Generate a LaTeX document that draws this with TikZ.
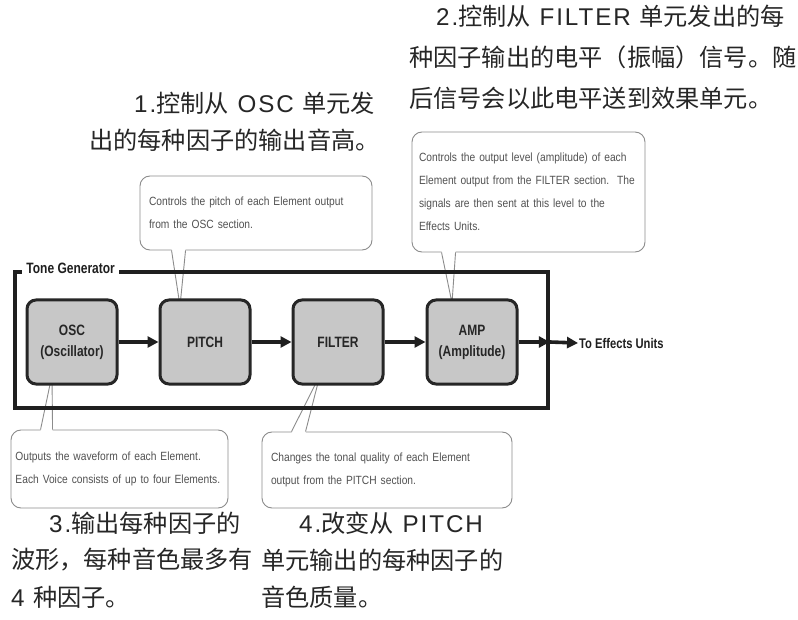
\documentclass[tikz,border=0pt]{standalone}
\usepackage{fontspec}
\setmainfont{Liberation Sans}
\newfontfamily\cjk{Noto Sans CJK SC}
\newfontfamily\latinfont[LetterSpace=8]{Liberation Sans}
\newfontfamily\narrowfont[FakeStretch=0.8]{Liberation Sans}
\newfontfamily\calloutfont[FakeStretch=0.86]{Liberation Sans}
\newcommand\lat[1]{{\latinfont #1}}
\hyphenpenalty=10000
\usetikzlibrary{arrows.meta,calc}
\tikzset{
  unit/.style={draw=black!85, line width=3pt, fill=black!22, rounded corners=9pt,
    minimum width=90pt, minimum height=84pt, inner sep=0pt, align=center,
    font=\narrowfont\bfseries\fontsize{15}{21}\selectfont, text=black!85},
  frame/.style={draw=black!88, line width=3.6pt, inner sep=0pt},
  tglabel/.style={font=\narrowfont\bfseries\fontsize{15}{18}\selectfont, text=black!88, fill=white, inner xsep=4pt, inner ysep=1pt},
  fxlabel/.style={font=\narrowfont\bfseries\fontsize{14}{16}\selectfont, text=black!88, inner sep=1pt},
  flow/.style={draw=black!88, line width=3.6pt, -{Triangle[length=11pt,width=11pt]}},
  callout/.style={draw=black!45, line width=0.9pt, rounded corners=10pt, fill=white, align=left,
    inner ysep=0pt, font=\calloutfont\fontsize{11.9}{23}\selectfont, text=black!68},
  callline/.style={draw=black!45, line width=0.9pt, line join=miter},
  cn/.style={font=\latinfont\fontsize{23}{28}\selectfont\cjk\fontsize{24.2}{28}\selectfont, text=black!85, inner sep=0pt, anchor=west},
}
\begin{document}
\begin{tikzpicture}[x=1pt,y=-1pt]
\useasboundingbox (0,0) rectangle (798,620);
\fill[white] (0,0) rectangle (798,620);

% Chinese annotations
\node[cn] (t2a) at (436,16) {\lat{2.}控制从\lat{ FILTER }单元发出的每};
\node[cn] (t2b) at (409,57) {种因子输出的电平（振幅）信号。随};
\node[cn] (t2c) at (409,98) {后信号会以此电平送到效果单元。};
\node[cn] (t1a) at (134,103) {\lat{1.}控制从\lat{ OSC }单元发};
\node[cn] (t1b) at (89,140) {出的每种因子的输出音高。};
\node[cn] (t3a) at (49,523) {\lat{3.}输出每种因子的};
\node[cn] (t3b) at (11,560) {波形，每种音色最多有};
\node[cn] (t3c) at (11,597) {\lat{4 }种因子。};
\node[cn] (t4a) at (299,523) {\lat{4.}改变从\lat{ PITCH}};
\node[cn] (t4b) at (261,560) {单元输出的每种因子的};
\node[cn] (t4c) at (261,597) {音色质量。};

% Callouts
\node[callout, minimum height=74pt, inner xsep=9pt, text width=214pt] (c1) at (256,213)
  {Controls the pitch of each Element output\\from the OSC section.};
\node[callout, minimum height=120pt, inner xsep=7pt, text width=219pt] (c2) at (528.5,192)
  {Controls the output level (amplitude) of each\\Element output from the FILTER section.\ \ The\\signals are then sent at this level to the\\Effects Units.};
\node[callout, minimum height=78pt, inner xsep=4.5pt, text width=208pt] (c3) at (119.5,469)
  {Outputs the waveform of each Element.\\Each Voice consists of up to four Elements.};
\node[callout, minimum height=76pt, inner xsep=9pt, text width=232pt] (c4) at (387,470)
  {Changes the tonal quality of each Element\\output from the PITCH section.};

% pointer coordinates
\coordinate (b1a) at ($(c1.south west)+(32,0)$);
\coordinate (b1b) at ($(c1.south west)+(46,0)$);
\coordinate (tip1) at (180,306);
\coordinate (b2a) at ($(c2.south west)+(30,0)$);
\coordinate (b2b) at ($(c2.south west)+(44,0)$);
\coordinate (tip2) at (452,303);
\coordinate (b3a) at ($(c3.north west)+(30,0)$);
\coordinate (b3b) at ($(c3.north west)+(42,0)$);
\coordinate (tip3) at (52,375);
\coordinate (b4a) at ($(c4.north west)+(30,0)$);
\coordinate (b4b) at ($(c4.north west)+(44,0)$);
\coordinate (tip4) at (320,375);

% pointers
\fill[white] ($(b1a)+(0,-1.5)$) -- (tip1) -- ($(b1b)+(0,-1.5)$) -- cycle;
\draw[callline] (b1a) -- (tip1) -- (b1b);
\fill[white] ($(b2a)+(0,-1.5)$) -- (tip2) -- ($(b2b)+(0,-1.5)$) -- cycle;
\draw[callline] (b2a) -- (tip2) -- (b2b);
\fill[white] ($(b3a)+(0,1.5)$) -- (tip3) -- ($(b3b)+(0,1.5)$) -- cycle;
\draw[callline] (b3a) -- (tip3) -- (b3b);
\fill[white] ($(b4a)+(0,1.5)$) -- (tip4) -- ($(b4b)+(0,1.5)$) -- cycle;
\draw[callline] (b4a) -- (tip4) -- (b4b);

% Tone generator frame
\node[frame, minimum width=533pt, minimum height=136pt] (tg) at (281.5,340) {};
\node[tglabel, anchor=west] (tglab) at ($(tg.north west)+(9,-2)$) {Tone Generator};

% Units
\node[unit] (osc) at (72,342) {OSC\\(Oscillator)};
\node[unit] (pitch) at (205,342) {PITCH};
\node[unit] (filter) at (338,342) {FILTER};
\node[unit] (amp) at (472,342) {AMP\\(Amplitude)};

% Output label
\node[fxlabel, anchor=west] (fx) at (578,343) {To Effects Units};
\coordinate (exitpt) at (tg.east |- amp.east);

% Flow arrows
\draw[flow] (osc.east) -- (pitch.west);
\draw[flow] (pitch.east) -- (filter.west);
\draw[flow] (filter.east) -- (amp.west);
\draw[flow] (amp.east) -- (exitpt);
\draw[flow] (exitpt) -- (fx.west);
\end{tikzpicture}
\end{document}
